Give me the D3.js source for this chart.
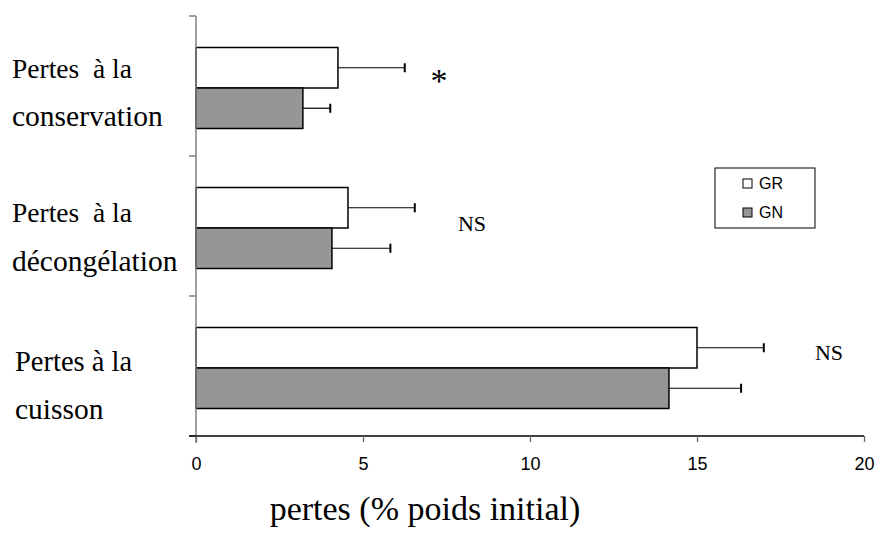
<!DOCTYPE html>
<html>
<head>
<meta charset="utf-8">
<script src="https://cdn.jsdelivr.net/npm/d3@7"></script>
<style>
  html, body { margin: 0; padding: 0; background: #fff; }
  svg { display: block; }
</style>
</head>
<body>
<svg id="chart" width="879" height="544"></svg>
<script>
// Loss categories (two text lines each)
const categories = ["conservation", "decongelation", "cuisson"];
const categoryLines = [
  ["Pertes  à la", "conservation"],
  ["Pertes  à la", "décongélation"],
  ["Pertes à la", "cuisson"]
];
const series = ["GR", "GN"];
const grMeans = [4.25, 4.55, 15.0];
const grSd = [2.0, 2.0, 2.0];
const gnMeans = [3.2, 4.07, 14.16];
const gnSd = [0.82, 1.75, 2.16];
const significance = ["*", "NS", "NS"];
const xTicks = [0, 5, 10, 15, 20];
const axisTitle = "pertes (% poids initial)";

const colors = { GR: "#ffffff", GN: "#969696" };

const rows = categories.map((c, i) => ({
  cat: c,
  lines: categoryLines[i],
  sig: significance[i],
  bars: [
    { key: "GR", mean: grMeans[i], sd: grSd[i] },
    { key: "GN", mean: gnMeans[i], sd: gnSd[i] }
  ]
}));

const svg = d3.select("#chart");
const x0 = 196, x1 = 864, yTop = 16, yBottom = 436;

const x = d3.scaleLinear().domain([0, 20]).range([x0, x1]);
const y = d3.scaleBand().domain(categories).range([yTop, yBottom]).padding(0);
const ySub = d3.scaleBand().domain(series).range([31.5, 112.5]).padding(0);

const serif = "'Liberation Serif', 'Times New Roman', serif";
const sans = "'Liberation Sans', Arial, sans-serif";

// Bars
const groups = svg.selectAll("g.row").data(rows).join("g")
  .attr("class", "row")
  .attr("transform", d => `translate(0,${y(d.cat)})`);

groups.selectAll("rect").data(d => d.bars).join("rect")
  .attr("x", x(0))
  .attr("y", d => ySub(d.key))
  .attr("width", d => x(d.mean) - x(0))
  .attr("height", ySub.bandwidth())
  .attr("fill", d => colors[d.key])
  .attr("stroke", "#000")
  .attr("stroke-width", 1.5);

// Error bars (positive side only)
const err = groups.selectAll("g.err").data(d => d.bars).join("g").attr("class", "err");
err.append("line")
  .attr("x1", d => x(d.mean)).attr("x2", d => x(d.mean + d.sd))
  .attr("y1", d => ySub(d.key) + ySub.bandwidth() / 2)
  .attr("y2", d => ySub(d.key) + ySub.bandwidth() / 2)
  .attr("stroke", "#000").attr("stroke-width", 1.2);
err.append("line")
  .attr("x1", d => x(d.mean + d.sd)).attr("x2", d => x(d.mean + d.sd))
  .attr("y1", d => ySub(d.key) + ySub.bandwidth() / 2 - 4.5)
  .attr("y2", d => ySub(d.key) + ySub.bandwidth() / 2 + 4.5)
  .attr("stroke", "#000").attr("stroke-width", 2);

// Y axis (gray) with outward ticks at category boundaries
const yBounds = [yTop].concat(categories.map(c => y(c) + y.bandwidth()));
svg.append("line")
  .attr("x1", x0).attr("x2", x0).attr("y1", yTop).attr("y2", yBottom + 7)
  .attr("stroke", "#808080").attr("stroke-width", 1.5);
svg.selectAll("line.ytick").data(yBounds).join("line")
  .attr("class", "ytick")
  .attr("x1", x0 - 7).attr("x2", x0)
  .attr("y1", d => d).attr("y2", d => d)
  .attr("stroke", "#808080").attr("stroke-width", 1.5);

// X axis
const xAxis = d3.axisBottom(x).tickValues(xTicks).tickSize(6).tickPadding(15).tickSizeOuter(0);
const gx = svg.append("g").attr("transform", `translate(0,${yBottom})`).call(xAxis);
gx.select(".domain").attr("d", `M${x0 - 7},0H${x1}`).attr("stroke", "#000").attr("stroke-width", 1.3);
gx.selectAll(".tick line").attr("stroke", "#666").attr("stroke-width", 1.3);
gx.selectAll(".tick text")
  .attr("font-family", sans).attr("font-size", 18).attr("fill", "#000");

// Category labels
const labelX = [12, 12, 15];
const lineOffsets = [[62, 110], [66, 115], [75, 123]];
const lineSizes = [27.5, 29.5];
const labels = svg.selectAll("text.cat").data(rows).join("text")
  .attr("class", "cat")
  .attr("font-family", serif)
  .attr("fill", "#000")
  .style("white-space", "pre");
labels.selectAll("tspan").data((d, i) => d.lines.map((t, k) => ({ t, k, i }))).join("tspan")
  .attr("x", d => labelX[d.i])
  .attr("y", d => y(categories[d.i]) + lineOffsets[d.i][d.k])
  .attr("font-size", d => d.i === 2 && d.k === 0 ? 28.5 : lineSizes[d.k])
  .text(d => d.t);

// Significance marks
const sigPos = [[439, 92, 34], [472, 231, 22], [829, 360, 22]];
svg.selectAll("text.sig").data(rows).join("text")
  .attr("class", "sig")
  .attr("x", (d, i) => sigPos[i][0])
  .attr("y", (d, i) => sigPos[i][1])
  .attr("text-anchor", "middle")
  .attr("font-family", serif)
  .attr("font-size", (d, i) => sigPos[i][2])
  .text(d => d.sig);

// Legend
const lg = svg.append("g").attr("transform", "translate(715,168)");
lg.append("rect").attr("width", 100).attr("height", 60)
  .attr("fill", "#fff").attr("stroke", "#000").attr("stroke-width", 1);
const li = lg.selectAll("g.li").data(series).join("g")
  .attr("transform", (d, i) => `translate(28,${11 + i * 29})`);
li.append("rect").attr("width", 9).attr("height", 9)
  .attr("fill", d => colors[d]).attr("stroke", "#000").attr("stroke-width", 1);
li.append("text").attr("x", 16).attr("y", 10)
  .attr("font-family", sans).attr("font-size", 16).text(d => d);

// Axis title
svg.append("text")
  .attr("x", 425).attr("y", 520)
  .attr("text-anchor", "middle")
  .attr("font-family", serif).attr("font-size", 34)
  .text(axisTitle);
</script>
</body>
</html>
